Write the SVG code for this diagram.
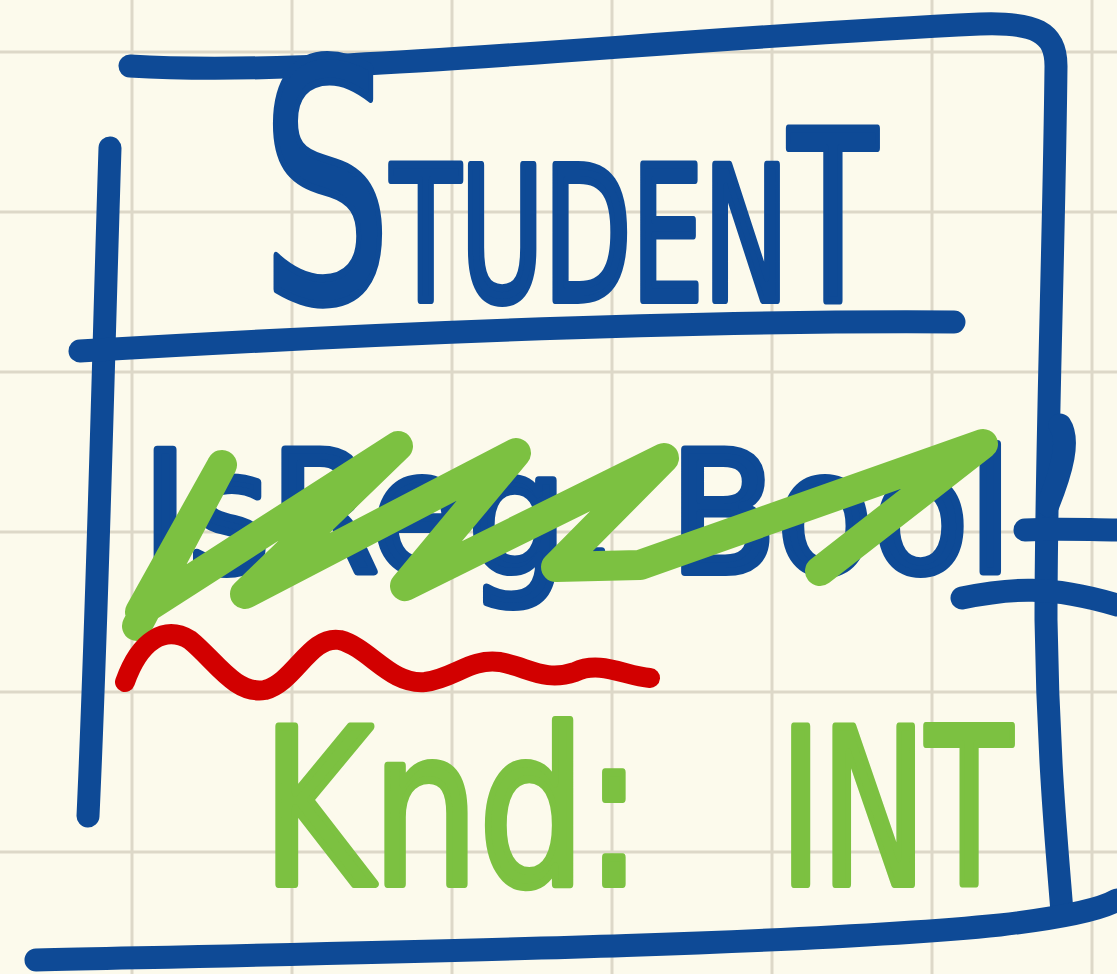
<svg xmlns="http://www.w3.org/2000/svg" width="1117" height="974" viewBox="0 0 1117 974">
<style>
.grid{stroke:#ddd8c8;stroke-width:3;fill:none}
.ink{fill:none;stroke-linecap:round;stroke-linejoin:round}
.blue{stroke:#0e4a96;stroke-width:23}
.green{stroke:#7cc141;stroke-width:30}
.red{stroke:#d20000;stroke-width:20}
.hand{font-family:"DejaVu Sans","Liberation Sans",sans-serif;stroke-linejoin:round;stroke-linecap:round}
.tb{fill:#0e4a96;stroke:#0e4a96;stroke-width:8}
.tg{fill:#7cc141;stroke:#7cc141;stroke-width:8}
</style>
<rect width="1117" height="974" fill="#fcfaec"/>
<g id="grid" class="grid">
<path d="M132,0V974M292,0V974M452,0V974M612,0V974M772,0V974M932,0V974M1092,0V974"/>
<path d="M0,52H1117M0,212H1117M0,372H1117M0,532H1117M0,692H1117M0,852H1117"/>
</g>
<g id="student-box" class="ink blue">
<path d="M130,66 C330,78 640,40 980,24 C1035,22 1056,32 1056,66 C1054,250 1046,450 1046,620 C1048,760 1058,860 1062,912"/>
<path d="M110,148 C104,330 98,600 88,816"/>
<path d="M80,351 C300,338 650,320 954,322"/>
<path d="M36,960 C400,952 800,945 1000,925 C1060,918 1100,910 1117,900"/>
</g>
<g id="title">
<text class="hand tb" x="262" y="300" textLength="615" lengthAdjust="spacingAndGlyphs"><tspan font-size="330">S</tspan><tspan font-size="185">TUDEN</tspan><tspan font-size="235">T</tspan></text>
</g>
<g id="attr-crossed">
<text class="hand tb" x="142" y="572" font-size="168" textLength="870" lengthAdjust="spacingAndGlyphs">IsReg: Bool</text>
<path class="ink blue" d="M1060,425 C1070,440 1062,470 1048,505 M1025,530 C1060,528 1090,530 1117,530 M962,598 C1010,588 1050,585 1117,605"/>
<path class="ink green" d="M137,626 L222,465 L140,612 L398,446 L245,594 L516,453 L405,586 L664,458 L556,567 L640,565 L983,444 L820,571"/>
<path class="ink red" d="M125,682 C140,640 165,625 190,640 C215,660 235,695 265,690 C295,682 310,635 340,640 C370,648 390,685 425,682 C455,678 470,658 500,662 C530,668 545,682 575,672 C600,660 625,676 650,678"/>
</g>
<g id="attr-kind">
<text class="hand tg" y="884" font-size="215"><tspan x="262" textLength="380" lengthAdjust="spacingAndGlyphs">Knd:</tspan><tspan x="780" textLength="232" lengthAdjust="spacingAndGlyphs">INT</tspan></text>
</g>
</svg>
